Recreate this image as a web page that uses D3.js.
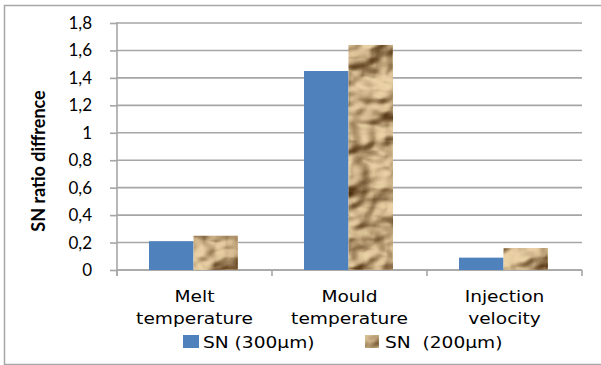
<!DOCTYPE html>
<html>
<head>
<meta charset="utf-8">
<script src="https://cdn.jsdelivr.net/npm/d3@7/dist/d3.min.js"></script>
<style>
  html, body { margin: 0; padding: 0; background: #fff; }
  svg { display: block; }
</style>
</head>
<body>
<svg id="chart" width="601" height="365"></svg>
<script>
// Chart data
const categories = [["Melt", "temperature"], ["Mould", "temperature"], ["Injection", "velocity"]];
const seriesNames = ["SN (300µm)", "SN  (200µm)"];
const sn300 = [0.21, 1.45, 0.09];
const sn200 = [0.25, 1.64, 0.16];
const yTicks = [0, 0.2, 0.4, 0.6, 0.8, 1, 1.2, 1.4, 1.6, 1.8];
const yTickLabels = ["0", "0,2", "0,4", "0,6", "0,8", "1", "1,2", "1,4", "1,6", "1,8"];
const yTitle = "SN  ratio diffrence";

const svg = d3.select("#chart");
const W = 601, H = 365;
const plot = { left: 117, right: 582, top: 23, bottom: 270 };
const textStretch = 1.2;

// Crumpled paper texture for the 200µm series
const defs = svg.append("defs");
const f = defs.append("filter").attr("id", "crumple")
  .attr("x", 0).attr("y", 0).attr("width", 1).attr("height", 1)
  .attr("color-interpolation-filters", "sRGB");
f.append("feTurbulence").attr("type", "fractalNoise")
  .attr("baseFrequency", "0.022 0.03").attr("numOctaves", 3).attr("seed", 11).attr("result", "noise");
const light = f.append("feDiffuseLighting").attr("in", "noise")
  .attr("surfaceScale", 14).attr("diffuseConstant", 0.95)
  .attr("lighting-color", "#ffffff").attr("result", "lit");
light.append("feDistantLight").attr("azimuth", 225).attr("elevation", 55);
f.append("feColorMatrix").attr("in", "lit").attr("type", "matrix")
  .attr("values", "0.756 0 0 0 0.204  0.784 0 0 0 0.078  0.728 0 0 0 -0.042  0 0 0 1 0")
  .attr("result", "tinted");
f.append("feComposite").attr("in", "tinted").attr("in2", "SourceGraphic").attr("operator", "in");

const colors = ["#4f81bd", "#c8a474"];
const filters = [null, "url(#crumple)"];

// Outer frame
svg.append("path")
  .attr("d", `M${W + 2},5.5 H4.5 V364.5 H${W + 2}`)
  .attr("fill", "none").attr("stroke", "#a6a6a6").attr("stroke-width", 1.5);

// Scales
const x0 = d3.scaleBand().domain(d3.range(categories.length))
  .range([plot.left, plot.right]).padding(0);
const bw = x0.bandwidth();
const barW = 44.5;
const x1 = d3.scaleBand().domain(d3.range(seriesNames.length))
  .range([bw / 2 - barW - 1, bw / 2 + barW - 1]).padding(0);
const y = d3.scaleLinear().domain([0, 1.8]).range([plot.bottom, plot.top]);

// Gridlines
svg.append("g").selectAll("line").data(yTicks).join("line")
  .attr("x1", plot.left).attr("x2", plot.right)
  .attr("y1", d => y(d)).attr("y2", d => y(d))
  .attr("stroke", "#a6a6a6").attr("stroke-width", 1.6);

// Y axis
const yAxis = d3.axisLeft(y).tickValues(yTicks)
  .tickFormat((d, i) => yTickLabels[i]).tickSize(7).tickPadding(18);
const gy = svg.append("g").attr("transform", `translate(${plot.left},0)`).call(yAxis);
gy.select(".domain").remove();
gy.selectAll(".tick line").attr("stroke", "#a6a6a6").attr("stroke-width", 1.6);
gy.selectAll(".tick text").attr("fill", "#000")
  .style("font-family", "Lato, 'Open Sans', sans-serif").style("font-size", "17px");
svg.append("line").attr("x1", plot.left).attr("x2", plot.left)
  .attr("y1", plot.top - 1).attr("y2", plot.bottom + 6)
  .attr("stroke", "#a6a6a6").attr("stroke-width", 1.6);

// X axis
svg.append("line").attr("x1", plot.left).attr("x2", plot.right)
  .attr("y1", plot.bottom).attr("y2", plot.bottom)
  .attr("stroke", "#a6a6a6").attr("stroke-width", 1.6);
const sepX = d3.range(categories.length + 1).map(i => i < categories.length ? x0(i) : plot.right);
svg.append("g").selectAll("line").data(sepX).join("line")
  .attr("x1", d => d).attr("x2", d => d)
  .attr("y1", plot.bottom).attr("y2", plot.bottom + 6)
  .attr("stroke", "#a6a6a6").attr("stroke-width", 1.6);

// Bars
const seriesVals = [sn300, sn200];
seriesVals.forEach((vals, s) => {
  svg.append("g").selectAll("rect").data(vals).join("rect")
    .attr("x", (d, i) => x0(i) + x1(s))
    .attr("width", x1.bandwidth())
    .attr("y", d => y(d))
    .attr("height", d => y(0) - y(d))
    .attr("fill", colors[s])
    .attr("filter", filters[s]);
});

// Category labels (wide lettering)
const catFont = "'DejaVu Sans', Verdana, sans-serif";
const cg = svg.append("g").selectAll("g").data(categories).join("g")
  .attr("transform", (d, i) => `translate(${x0(i) + bw / 2},302) scale(${textStretch},1)`);
cg.selectAll("text").data(d => d).join("text")
  .attr("x", 0).attr("y", (d, i) => i * 22)
  .attr("text-anchor", "middle")
  .style("font-family", catFont).style("font-size", "15.5px").attr("fill", "#000")
  .text(d => d);

// Y title
svg.append("text")
  .attr("transform", "translate(45,161) rotate(-90)")
  .attr("text-anchor", "middle")
  .style("font-family", "Lato, 'Open Sans', sans-serif")
  .style("font-weight", "bold").style("font-size", "18px")
  .attr("fill", "#000")
  .text(yTitle);

// Legend
const legendX = [183, 365];
const legendTextX = [203, 385];
seriesNames.forEach((name, s) => {
  svg.append("rect").attr("x", legendX[s]).attr("y", 335)
    .attr("width", s === 0 ? 16 : 14).attr("height", 13)
    .attr("fill", colors[s]).attr("filter", filters[s]);
  svg.append("g").attr("transform", `translate(${legendTextX[s]},348) scale(${textStretch},1)`)
    .append("text").attr("x", 0).attr("y", 0)
    .style("font-family", catFont).style("font-size", "15.5px")
    .style("white-space", "pre").attr("xml:space", "preserve")
    .attr("fill", "#000").text(name);
});
</script>
</body>
</html>
